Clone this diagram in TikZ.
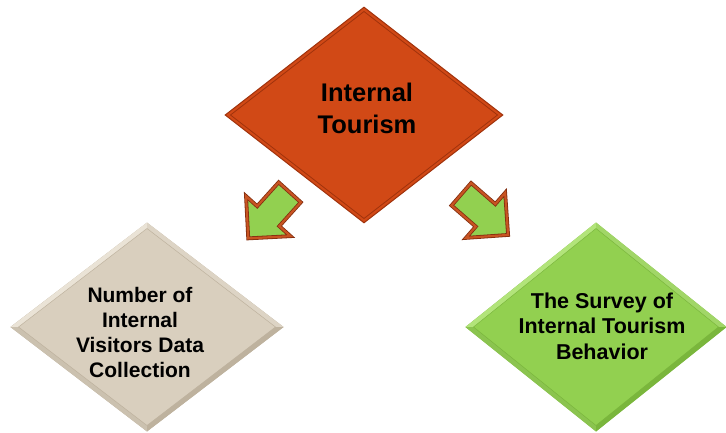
\documentclass[tikz,border=0pt]{standalone}
\usepackage{fontspec}
\setmainfont{Liberation Sans}
\usepackage{tikz}
\usetikzlibrary{shapes}
\usetikzlibrary{shapes.arrows}
\usetikzlibrary{calc}

\definecolor{tourred}{RGB}{209,73,22}
\definecolor{touredge}{RGB}{160,50,12}
\definecolor{beige}{RGB}{217,207,190}
\definecolor{beigelight}{RGB}{234,227,214}
\definecolor{beigedark}{RGB}{190,178,158}
\definecolor{leafgreen}{RGB}{146,208,80}
\definecolor{greenlight}{RGB}{178,228,122}
\definecolor{greendark}{RGB}{122,182,60}
\definecolor{arrowedge}{RGB}{200,84,34}
\definecolor{arrowdark}{RGB}{130,45,15}

\begin{document}
\begin{tikzpicture}[x=1pt, y=1pt,
                    plate/.style={diamond, inner sep=0pt, draw=#1, line width=1pt},
                    words/.style={align=center, inner sep=0pt},
                    pointer/.style={single arrow, single arrow tip angle=90,
                        single arrow head extend=15pt, text height=14.5pt, text depth=14.5pt,
                        minimum height=62pt, inner sep=0pt, anchor=tail,
                        fill=leafgreen, draw=arrowdark, line width=0.8pt,
                        double=arrowedge, double distance=2.2pt, line join=miter}]
    \useasboundingbox (0,0) rectangle (726,432);

    \node [plate=touredge, fill=tourred, minimum width=278pt, minimum height=216pt] (tour) at (364,317) {};
    \node [plate=beigedark, fill=beige, minimum width=272pt, minimum height=208pt] (count) at (147,105) {};
    \node [plate=greendark, fill=leafgreen, minimum width=260pt, minimum height=208pt] (survey) at (596,105) {};

    \draw [touredge, line width=0.8pt] ($(tour.north)+(0,-5)$) -- ($(tour.east)+(-6,0)$)
        -- ($(tour.south)+(0,5)$) -- ($(tour.west)+(6,0)$) -- cycle;

    \foreach \n/\lt/\dk in {count/beigelight/beigedark, survey/greenlight/greendark} {
        \fill [\lt] (\n.west) -- (\n.north) -- ($(\n.north)+(0,-6)$) -- ($(\n.west)+(8,0)$) -- cycle;
        \fill [\lt!70!\dk] (\n.north) -- (\n.east) -- ($(\n.east)+(-8,0)$) -- ($(\n.north)+(0,-6)$) -- cycle;
        \fill [\dk!70!\lt] (\n.west) -- (\n.south) -- ($(\n.south)+(0,6)$) -- ($(\n.west)+(8,0)$) -- cycle;
        \fill [\dk] (\n.south) -- (\n.east) -- ($(\n.east)+(-8,0)$) -- ($(\n.south)+(0,6)$) -- cycle;
        \draw [\dk, line width=0.5pt] ($(\n.north)+(0,-6)$) -- ($(\n.east)+(-8,0)$)
            -- ($(\n.south)+(0,6)$) -- ($(\n.west)+(8,0)$) -- cycle;
    }

    \node [words, font=\bfseries\fontsize{25.5}{32}\selectfont] (tourtext) at (367,324) {Internal\\Tourism};
    \node [words, font=\bfseries\fontsize{21}{25}\selectfont] (counttext) at (140,100) {Number of\\Internal\\Visitors Data\\Collection};
    \node [words, font=\bfseries\fontsize{21.5}{25.5}\selectfont] (surveytext) at (602,106) {The Survey of\\Internal Tourism\\Behavior};

    \node [pointer, rotate=228] (downleft) at (290,240) {};
    \node [pointer, rotate=-41] (downright) at (461,238) {};
\end{tikzpicture}
\end{document}
